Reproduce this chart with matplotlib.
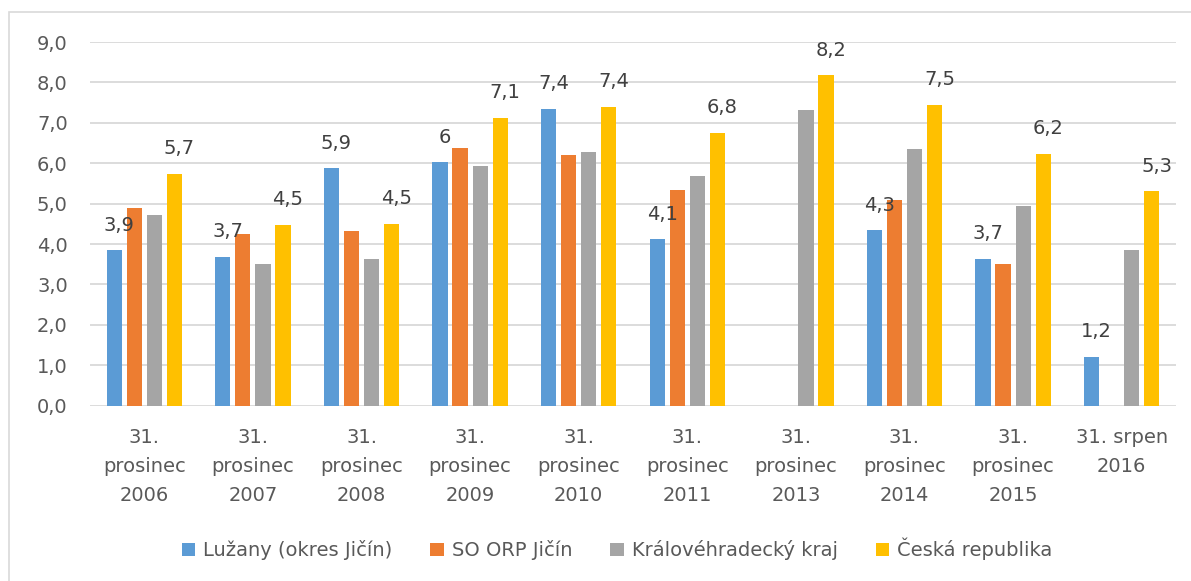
import numpy as np
import matplotlib
matplotlib.use("Agg")
import matplotlib.pyplot as plt
from matplotlib.patches import Rectangle, Patch

# data
kategorie = ["31.\nprosinec\n2006", "31.\nprosinec\n2007", "31.\nprosinec\n2008",
             "31.\nprosinec\n2009", "31.\nprosinec\n2010", "31.\nprosinec\n2011",
             "31.\nprosinec\n2013", "31.\nprosinec\n2014", "31.\nprosinec\n2015",
             "31. srpen\n2016"]
nan = np.nan
luzany = [3.85, 3.69, 5.88, 6.02, 7.35, 4.12, nan, 4.34, 3.64, 1.21]
orp_jicin = [4.90, 4.24, 4.32, 6.38, 6.21, 5.34, nan, 5.10, 3.51, nan]
kraj = [4.72, 3.51, 3.62, 5.94, 6.27, 5.68, 7.31, 6.35, 4.95, 3.85]
cr = [5.74, 4.48, 4.50, 7.12, 7.40, 6.76, 8.18, 7.45, 6.23, 5.31]
popisky_luzany = ["3,9", "3,7", "5,9", "6", "7,4", "4,1", "", "4,3", "3,7", "1,2"]
popisky_cr = ["5,7", "4,5", "4,5", "7,1", "7,4", "6,8", "8,2", "7,5", "6,2", "5,3"]
nazvy = ["Lužany (okres Jičín)", "SO ORP Jičín", "Královéhradecký kraj", "Česká republika"]
barvy = ["#5B9BD5", "#ED7D31", "#A5A5A5", "#FFC000"]

plt.rcParams['font.family'] = ['DejaVu Sans']
W, H = 1191, 581
fig = plt.figure(figsize=(W / 100, H / 100), dpi=100)
ax = fig.add_axes([90 / W, 1 - 405.7 / H, (1176 - 90) / W, (405.7 - 42) / H])

# ramecek kolem grafu
fig.patches.append(Rectangle((9 / W, -0.1), 1.2, 1.1 - 12 / H, transform=fig.transFigure,
                             fill=False, edgecolor="#D9D9D9", linewidth=1.2))

x = np.arange(len(kategorie))
krok = 0.185
sirka = 0.14
serie = [luzany, orp_jicin, kraj, cr]
for k, hodnoty in enumerate(serie):
    ax.bar(x + (k - 1.5) * krok, hodnoty, width=sirka, color=barvy[k], zorder=3)

# popisky hodnot
for k, popisky in [(0, popisky_luzany), (3, popisky_cr)]:
    for i, t in enumerate(popisky):
        v = serie[k][i]
        if t == "" or np.isnan(v):
            continue
        ax.annotate(t, (x[i] + (k - 1.5) * krok, v), xytext=(3.5, 18),
                    textcoords="offset points", ha="center", va="center",
                    fontsize=14, color="#404040")

ax.set_xlim(-0.5, len(kategorie) - 0.5)
ax.set_ylim(0, 9)
ax.set_yticks(np.arange(0, 10, 1))
ax.set_yticklabels([f"{v:.1f}".replace(".", ",") for v in np.arange(0, 10, 1)])
ax.set_xticks(x)
ax.set_xticklabels(kategorie, linespacing=1.68)
ax.grid(axis="y", color="#D9D9D9", linewidth=1.3, zorder=0)
for s in ax.spines.values():
    s.set_visible(False)
ax.tick_params(axis="both", length=0, labelsize=14, colors="#595959")
ax.tick_params(axis="y", pad=16)
ax.tick_params(axis="x", pad=16)

handles = [Patch(facecolor=c) for c in barvy]
fig.legend(handles, nazvy, loc="center", bbox_to_anchor=(617 / W, 1 - 549 / H), ncol=4,
           frameon=False, fontsize=14, labelcolor="#595959", handlelength=0.7,
           handleheight=0.7, handletextpad=0.4, columnspacing=1.95)

fig.savefig("out.png", dpi=100)
